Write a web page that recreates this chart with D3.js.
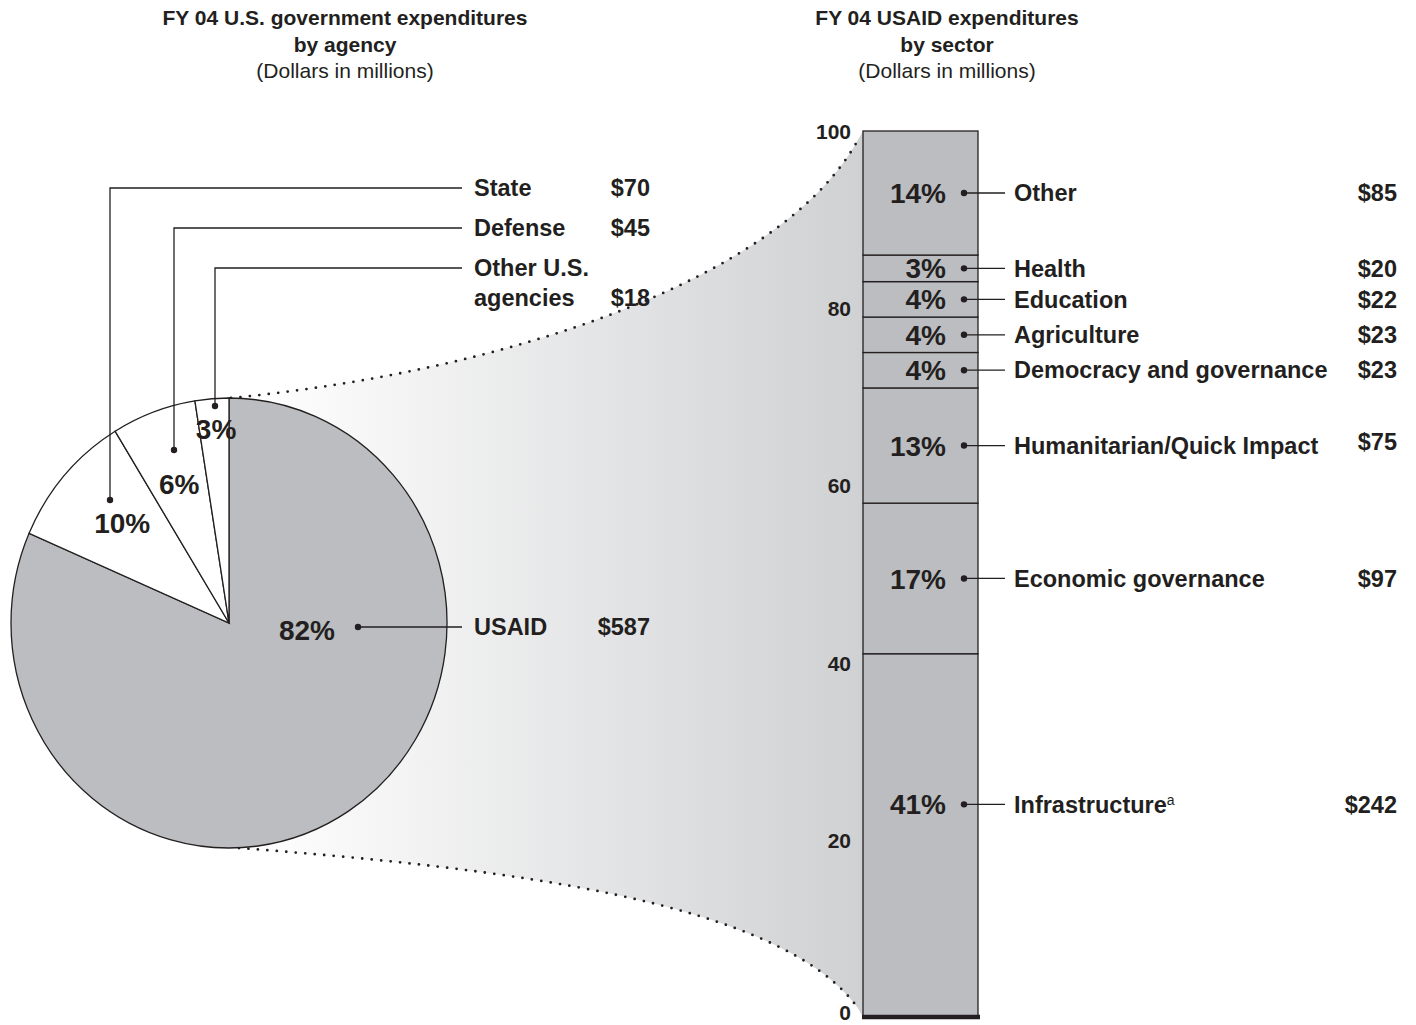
<!DOCTYPE html>
<html>
<head>
<meta charset="utf-8">
<script src="https://cdn.jsdelivr.net/npm/d3@7"></script>
<style>
  html, body { margin: 0; padding: 0; background: #fff; }
  svg { display: block; font-family: "Liberation Sans", Arial, Helvetica, sans-serif; }
</style>
</head>
<body>
<svg id="chart" width="1416" height="1025"></svg>
<script>
// ---------------- DATA ----------------
const agencyNames   = ["USAID", "State", "Defense", "Other U.S. agencies"];
const agencyValues  = [587, 70, 45, 18];          // $ millions
const agencyPercent = ["82%", "10%", "6%", "3%"];

const sectorNames   = ["Infrastructure", "Economic governance", "Humanitarian/Quick Impact",
                       "Democracy and governance", "Agriculture", "Education", "Health", "Other"];
const sectorPercent = [41, 17, 13, 4, 4, 4, 3, 14]; // % of USAID
const sectorDollars = ["$242", "$97", "$75", "$23", "$23", "$22", "$20", "$85"];
const sectorLabelAt = [24, 49.5, 64.5, 73, 77, 81, 84.5, 93]; // where each label sits (in %)
const axisTicks     = [0, 20, 40, 60, 80, 100];

const titleLeft  = ["FY 04 U.S. government expenditures", "by agency", "(Dollars in millions)"];
const titleRight = ["FY 04 USAID expenditures", "by sector", "(Dollars in millions)"];

// ---------------- LAYOUT ----------------
const ink = "#231f20", grey = "#bcbdc0";
const svg = d3.select("#chart");
const defs = svg.append("defs");

const cx = 229, cy = 623, R = 218, ryScale = 1.032;
const barX0 = 863, barX1 = 978;
const y = d3.scaleLinear().domain([0, 100]).range([1017, 131]);

// titles
function title(lines, x) {
  const t = svg.append("text").attr("text-anchor", "middle").attr("fill", ink).attr("font-size", 21);
  lines.forEach((s, i) => {
    t.append("tspan").attr("x", x).attr("y", 25 + i * 26.5)
      .attr("font-weight", i < 2 ? "bold" : "normal").text(s);
  });
}
title(titleLeft, 345);
title(titleRight, 947);

// gradient funnel
const grad = defs.append("linearGradient").attr("id", "fade")
  .attr("gradientUnits", "userSpaceOnUse").attr("x1", 250).attr("x2", 860).attr("y1", 0).attr("y2", 0);
grad.append("stop").attr("offset", 0).attr("stop-color", "#ffffff");
grad.append("stop").attr("offset", 1).attr("stop-color", "#d0d1d3");

const topY = cy - R * ryScale, botY = cy + R * ryScale;
const upper = d3.path();
upper.moveTo(cx + 2, topY);
upper.bezierCurveTo(500, 372, 780, 282, barX0 - 5, y(99));
const lower = d3.path();
lower.moveTo(cx + 10, botY);
lower.bezierCurveTo(500, 868, 780, 900, barX0 - 5, y(1));

const fill = d3.path();
fill.moveTo(cx, topY);
fill.bezierCurveTo(500, 372, 780, 282, barX0 - 5, y(99));
fill.lineTo(barX0, y(100));
fill.lineTo(barX0, y(0));
fill.lineTo(barX0 - 5, y(1));
fill.bezierCurveTo(780, 900, 500, 868, cx + 10, botY);
fill.lineTo(cx, cy);
fill.closePath();
svg.append("path").attr("d", fill.toString()).attr("fill", "url(#fade)");

[upper, lower].forEach(p => svg.append("path").attr("d", p.toString())
  .attr("fill", "none").attr("stroke", ink).attr("stroke-width", 2.8)
  .attr("stroke-linecap", "round").attr("stroke-dasharray", "0 9.5"));

// pie
const pie = d3.pie().sort(null).value(d => d)(agencyValues);
const arc = d3.arc().innerRadius(0).outerRadius(R);
const pg = svg.append("g").attr("transform", `translate(${cx},${cy}) scale(1,${ryScale})`);
pg.selectAll("path").data(pie).join("path")
  .attr("d", arc)
  .attr("fill", (d, i) => i === 0 ? grey : "#fff")
  .attr("stroke", ink).attr("stroke-width", 1.3).attr("vector-effect", "non-scaling-stroke");

// pie percent labels (polar from slice mid-angle)
const labelR = [null, 144, 144, 190];
pie.forEach((d, i) => {
  let x, yy;
  if (i === 0) { x = cx + 78; yy = cy + 7; }
  else {
    const a = (d.startAngle + d.endAngle) / 2 + (i === 1 ? 0.02 : 0);
    x = cx + labelR[i] * Math.sin(a) + (i === 3 ? 2 : 0);
    yy = cy - labelR[i] * Math.cos(a) * ryScale + (i === 3 ? 1 : 0);
  }
  svg.append("text").attr("x", x).attr("y", yy).attr("dy", "0.36em")
    .attr("text-anchor", "middle").attr("font-size", 28).attr("font-weight", "bold")
    .attr("fill", ink).text(agencyPercent[i]);
});

// pie leaders
const leaderX = [358, 110, 174, 215];
const leaderDotY = [627, 500, 450, 406];
const leaderY = [627, 188, 228, 268];
const lineEnd = 462, nameX = 474, valX = 650;
agencyNames.forEach((n, i) => {
  const pts = i === 0 ? [[leaderX[i], leaderDotY[i]], [lineEnd, leaderY[i]]]
                      : [[leaderX[i], leaderDotY[i]], [leaderX[i], leaderY[i]], [lineEnd, leaderY[i]]];
  svg.append("path").attr("d", d3.line()(pts)).attr("fill", "none").attr("stroke", ink).attr("stroke-width", 1.3);
  svg.append("circle").attr("cx", leaderX[i]).attr("cy", leaderDotY[i]).attr("r", 3.2).attr("fill", ink);
  const t = svg.append("text").attr("font-size", 23.5).attr("font-weight", "bold").attr("fill", ink);
  let vy = leaderY[i] + 8;
  if (i === 3) {
    t.append("tspan").attr("x", nameX).attr("y", leaderY[i] + 8).text("Other U.S.");
    t.append("tspan").attr("x", nameX).attr("y", leaderY[i] + 8 + 30).text("agencies");
    vy = leaderY[i] + 38;
  } else {
    t.attr("x", nameX).attr("y", leaderY[i] + 8).text(n);
  }
  svg.append("text").attr("x", valX).attr("y", vy).attr("text-anchor", "end").attr("font-size", 23.5)
    .attr("font-weight", "bold").attr("fill", ink).text("$" + agencyValues[i]);
});

// stacked bar
const stack = [];
let acc = 0;
sectorPercent.forEach((v, i) => { stack.push({ i, y0: acc, y1: acc + v }); acc += v; });
svg.append("g").selectAll("rect").data(stack).join("rect")
  .attr("x", barX0).attr("width", barX1 - barX0)
  .attr("y", d => y(d.y1)).attr("height", d => y(d.y0) - y(d.y1))
  .attr("fill", grey).attr("stroke", ink).attr("stroke-width", 1.3);
svg.append("line").attr("x1", barX0 - 1).attr("x2", barX1 + 2).attr("y1", y(0)).attr("y2", y(0))
  .attr("stroke", ink).attr("stroke-width", 4.5);

// axis
const ax = svg.append("g").attr("transform", `translate(${barX0 - 12},0)`)
  .call(d3.axisLeft(y).tickValues(axisTicks).tickSize(0).tickPadding(0));
ax.select(".domain").remove();
ax.selectAll("text").attr("font-size", 21).attr("font-weight", "bold")
  .attr("font-family", "Liberation Sans, Arial, sans-serif").attr("fill", ink).attr("dy", "0.36em");
ax.selectAll(".tick").filter(d => d === 0).select("text").attr("dy", "0.1em");

// bar labels
const dotX = 964, lineX1 = 1005, sNameX = 1014, sValX = 1397;
sectorNames.forEach((n, i) => {
  const yy = y(sectorLabelAt[i]);
  svg.append("text").attr("x", 946).attr("y", yy).attr("dy", "0.36em").attr("text-anchor", "end")
    .attr("font-size", 28).attr("font-weight", "bold").attr("fill", ink).text(sectorPercent[i] + "%");
  svg.append("circle").attr("cx", dotX).attr("cy", yy).attr("r", 3.2).attr("fill", ink);
  svg.append("line").attr("x1", dotX).attr("x2", lineX1).attr("y1", yy).attr("y2", yy)
    .attr("stroke", ink).attr("stroke-width", 1.3);
  const t = svg.append("text").attr("x", sNameX).attr("y", yy).attr("dy", "0.35em")
    .attr("font-size", 23.5).attr("font-weight", "bold").attr("fill", ink).text(n);
  if (i === 0) t.append("tspan").attr("font-size", 14).attr("font-weight", "normal").attr("dy", "-0.55em").text("a");
  svg.append("text").attr("x", sValX).attr("y", yy).attr("dy", i === 2 ? "0.2em" : "0.35em")
    .attr("text-anchor", "end").attr("font-size", 23.5).attr("font-weight", "bold").attr("fill", ink)
    .text(sectorDollars[i]);
});
</script>
</body>
</html>
